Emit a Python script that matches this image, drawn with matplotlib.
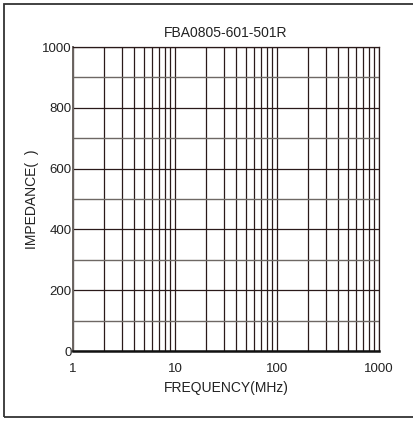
import matplotlib
matplotlib.use('Agg')
import matplotlib.pyplot as plt
from matplotlib.patches import Rectangle
from matplotlib.ticker import FixedLocator, NullFormatter

title = 'FBA0805-601-501R'
x_label = 'FREQUENCY(MHz)'
y_label = 'IMPEDANCE(  )'
x_range = [1, 1000]
y_range = [0, 1000]
x_major = [1, 10, 100, 1000]
x_major_labels = ['1', '10', '100', '1000']
x_minor = [m * d for d in [1, 10, 100] for m in range(2, 10)]
y_major = [0, 200, 400, 600, 800, 1000]
y_minor = [100, 300, 500, 700, 900]

plt.rcParams['font.family'] = ['Liberation Sans', 'DejaVu Sans']
fig = plt.figure(figsize=(4.14, 4.21), dpi=100)
ax = fig.add_axes([73/414, 1-351/421, (379-73)/414, (351-47)/421])

ax.set_xscale('log')
ax.set_xlim(*x_range); ax.set_ylim(*y_range)
ax.xaxis.set_major_locator(FixedLocator(x_major))
ax.set_xticklabels(x_major_labels)
ax.xaxis.set_minor_locator(FixedLocator(x_minor))
ax.xaxis.set_minor_formatter(NullFormatter())
ax.set_yticks(y_major)
ax.yaxis.set_minor_locator(FixedLocator(y_minor))

ax.grid(True, axis='x', which='both', color='#2a1a1a', lw=0.9)
ax.grid(True, axis='y', which='major', color='#2a1a1a', lw=0.9)
ax.grid(True, axis='y', which='minor', color='#6e6864', lw=1.0)
ax.tick_params(which='both', length=0, labelsize=9.5, colors='#222222')
ax.tick_params(axis='y', pad=1)
ax.tick_params(axis='x', pad=9)
for s in ['top', 'right']:
    ax.spines[s].set_color('#2a1a1a'); ax.spines[s].set_linewidth(0.9)
ax.spines['bottom'].set_color('#111111'); ax.spines['bottom'].set_linewidth(1.8)
ax.spines['left'].set_color('#6a6460'); ax.spines['left'].set_linewidth(1.4)

ax.set_title(title, fontsize=10, pad=7, color='#222222')
ax.set_xlabel(x_label, fontsize=10, labelpad=4, color='#222222')
ax.set_ylabel(y_label, fontsize=10, labelpad=2, color='#222222')

fig.patches.append(Rectangle((4/414, 1-417/421), 1.05, (417-4)/421,
                             transform=fig.transFigure, fill=False,
                             edgecolor='#333333', lw=1.3))
fig.savefig('out.png', dpi=100)
